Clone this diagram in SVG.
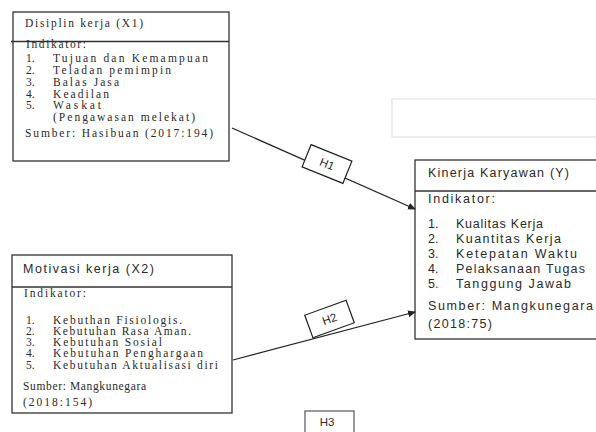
<svg xmlns="http://www.w3.org/2000/svg" width="596" height="432" viewBox="0 0 596 432">
<defs>
<marker id="arr" markerWidth="8" markerHeight="8" refX="7" refY="4" orient="auto" markerUnits="userSpaceOnUse">
<path d="M0,0.5 L8,4 L0,7.5 Z" fill="#222"/>
</marker>
</defs>
<style>
.box{fill:#fff;stroke:#333;stroke-width:1.3}
.div{stroke:#333;stroke-width:1.3}
.ser{font-family:"Liberation Serif","Times New Roman",serif;font-size:11.5px;fill:#2a2a2a}
.san{font-family:"Liberation Sans",Arial,sans-serif;font-size:11.5px;fill:#2a2a2a}
.big{font-size:12.5px}
.conn{stroke:#222;stroke-width:1.2;fill:none}
.lbl{fill:#fff;stroke:#222;stroke-width:1.2}
</style>
<rect x="392" y="99" width="210" height="38" fill="#fff" stroke="#ddd" stroke-width="1"/>
<g id="x1">
<rect class="box" x="13" y="12" width="216" height="149"/>
<line class="div" x1="11" y1="41.5" x2="229" y2="41.5"/>
<text class="ser" x="25" y="27" textLength="118" lengthAdjust="spacing">Disiplin kerja (X1)</text>
<text class="ser" x="26" y="48" textLength="60" lengthAdjust="spacing">Indikator:</text>
<text class="ser" x="26" y="62">1.</text><text class="ser" x="53" y="62" textLength="155" lengthAdjust="spacing">Tujuan dan Kemampuan</text>
<text class="ser" x="26" y="74">2.</text><text class="ser" x="53" y="74" textLength="118" lengthAdjust="spacing">Teladan pemimpin</text>
<text class="ser" x="26" y="86">3.</text><text class="ser" x="53" y="86" textLength="66" lengthAdjust="spacing">Balas Jasa</text>
<text class="ser" x="26" y="98">4.</text><text class="ser" x="53" y="98" textLength="56" lengthAdjust="spacing">Keadilan</text>
<text class="ser" x="26" y="109">5.</text><text class="ser" x="53" y="109" textLength="48" lengthAdjust="spacing">Waskat</text>
<text class="ser" x="53" y="121" textLength="142" lengthAdjust="spacing">(Pengawasan melekat)</text>
<text class="ser" x="25" y="137" textLength="188" lengthAdjust="spacing">Sumber: Hasibuan (2017:194)</text>
</g>
<g id="x2">
<rect class="box" x="12" y="255" width="220" height="158"/>
<line class="div" x1="12" y1="287" x2="232" y2="287"/>
<text class="san big" x="23" y="273" textLength="131" lengthAdjust="spacing">Motivasi kerja (X2)</text>
<text class="ser" x="24" y="297" textLength="62" lengthAdjust="spacing">Indikator:</text>
<text class="ser" x="26" y="324">1.</text><text class="ser" x="53" y="324" textLength="129" lengthAdjust="spacing">Kebuthan Fisiologis.</text>
<text class="ser" x="26" y="335">2.</text><text class="ser" x="53" y="335" textLength="138" lengthAdjust="spacing">Kebutuhan Rasa Aman.</text>
<text class="ser" x="26" y="346">3.</text><text class="ser" x="53" y="346" textLength="109" lengthAdjust="spacing">Kebutuhan Sosial</text>
<text class="ser" x="26" y="357">4.</text><text class="ser" x="53" y="357" textLength="150" lengthAdjust="spacing">Kebutuhan Penghargaan</text>
<text class="ser" x="26" y="369">5.</text><text class="ser" x="53" y="369" textLength="165" lengthAdjust="spacing">Kebutuhan Aktualisasi diri</text>
<text class="ser" x="23" y="390" textLength="123" lengthAdjust="spacing">Sumber: Mangkunegara</text>
<text class="ser" x="23" y="406" textLength="69" lengthAdjust="spacing">(2018:154)</text>
</g>
<g id="y">
<rect class="box" x="415" y="160" width="190" height="179"/>
<line class="div" x1="415" y1="191" x2="600" y2="191"/>
<text class="san big" x="428" y="177" textLength="141" lengthAdjust="spacing">Kinerja Karyawan (Y)</text>
<text class="san big" x="428" y="203" textLength="67" lengthAdjust="spacing">Indikator:</text>
<text class="san big" x="428" y="228">1.</text><text class="san big" x="456" y="228" textLength="87" lengthAdjust="spacing">Kualitas Kerja</text>
<text class="san big" x="428" y="243">2.</text><text class="san big" x="456" y="243" textLength="105" lengthAdjust="spacing">Kuantitas Kerja</text>
<text class="san big" x="428" y="258">3.</text><text class="san big" x="456" y="258" textLength="121" lengthAdjust="spacing">Ketepatan Waktu</text>
<text class="san big" x="428" y="273">4.</text><text class="san big" x="456" y="273" textLength="129" lengthAdjust="spacing">Pelaksanaan Tugas</text>
<text class="san big" x="428" y="288">5.</text><text class="san big" x="456" y="288" textLength="115" lengthAdjust="spacing">Tanggung Jawab</text>
<text class="san big" x="428" y="310" textLength="165" lengthAdjust="spacing">Sumber: Mangkunegara</text>
<text class="san big" x="428" y="328" textLength="64" lengthAdjust="spacing">(2018:75)</text>
</g>
<g id="connectors">
<line class="conn" x1="232" y1="128" x2="415" y2="209" marker-end="url(#arr)"/>
<line class="conn" x1="233" y1="360" x2="415" y2="312" marker-end="url(#arr)"/>
</g>
<g id="h1" transform="translate(327,164) rotate(22)">
<rect class="lbl" x="-22" y="-12" width="44" height="24"/>
<text class="san" x="0" y="4" text-anchor="middle" font-size="11">H1</text>
</g>
<g id="h2" transform="translate(329.5,319) rotate(-20)">
<rect class="lbl" x="-22" y="-12" width="44" height="24"/>
<text class="san" x="0" y="4" text-anchor="middle" font-size="11">H2</text>
</g>
<g id="h3">
<rect x="305" y="411" width="49" height="30" fill="#fff" stroke="#555" stroke-width="1.2"/>
<text class="san" x="327" y="426" text-anchor="middle" font-size="11" fill="#2a3560">H3</text>
</g>
</svg>
